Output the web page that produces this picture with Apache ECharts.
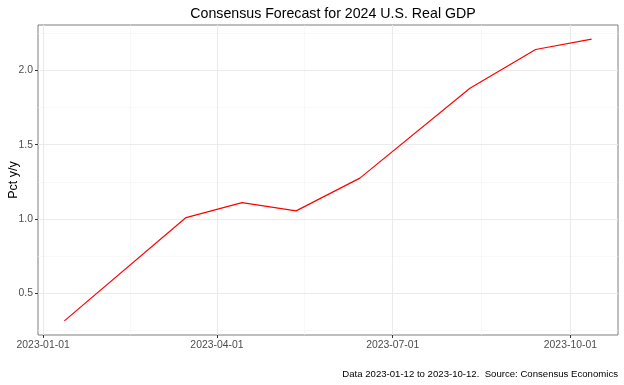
<!DOCTYPE html>
<html>
<head>
<meta charset="utf-8">
<script src="https://cdn.jsdelivr.net/npm/echarts@6/dist/echarts.min.js"></script>
<style>
html,body{margin:0;padding:0;background:#fff;}
#chart{width:624px;height:385px;}
</style>
</head>
<body>
<div id="chart"></div>
<script>
// ---- data ----
var surveyDates = ['2023-01-12','2023-03-16','2023-04-14','2023-05-12','2023-06-14','2023-08-10','2023-09-13','2023-10-12'];
var forecastValues = [0.315, 1.01, 1.11, 1.055, 1.275, 1.88, 2.14, 2.21];
var xTickLabels = ['2023-01-01','2023-04-01','2023-07-01','2023-10-01'];
var xMinorTickDates = ['2023-02-15','2023-05-16','2023-08-16'];
var yTickValues = [0.5, 1.0, 1.5, 2.0];
var yMinorTickValues = [0.25, 0.75, 1.25, 1.75, 2.25];
var titleText = 'Consensus Forecast for 2024 U.S. Real GDP';
var yAxisTitle = 'Pct y/y';
var captionText = 'Data 2023-01-12 to 2023-10-12.  Source: Consensus Economics';

// day number helper (days since epoch, UTC)
function dayNum(s){ var p = s.split('-'); return Date.UTC(+p[0], +p[1]-1, +p[2]) / 86400000; }
function dayStr(d){ var dt = new Date(Math.round(d)*86400000); return dt.toISOString().slice(0,10); }

var xs = surveyDates.map(dayNum);
var xMinD = Math.min.apply(null, xs), xMaxD = Math.max.apply(null, xs);
var xr = xMaxD - xMinD;
var yMinD = Math.min.apply(null, forecastValues), yMaxD = Math.max.apply(null, forecastValues);
var yr = yMaxD - yMinD;

var xTickVals = xTickLabels.map(dayNum);
var xMinorVals = xMinorTickDates.map(dayNum);

var seriesData = xs.map(function(x, i){ return [x, forecastValues[i]]; });

var FONT = '"Liberation Sans", Arial, sans-serif';

var gridMarks = [];
yMinorTickValues.forEach(function(v){ gridMarks.push({yAxis: v, lineStyle:{color:'#f3f3f3', width:0.6, type:'solid'}}); });
xMinorVals.forEach(function(v){ gridMarks.push({xAxis: v, lineStyle:{color:'#f3f3f3', width:0.6, type:'solid'}}); });
yTickValues.forEach(function(v){ gridMarks.push({yAxis: v, lineStyle:{color:'#ebebeb', width:1.1, type:'solid'}}); });
xTickVals.forEach(function(v){ gridMarks.push({xAxis: v, lineStyle:{color:'#ebebeb', width:1.1, type:'solid'}}); });

var chart = echarts.init(document.getElementById('chart'), null, {renderer:'canvas'});
chart.setOption({
  animation: false,
  backgroundColor: '#ffffff',
  textStyle: {fontFamily: FONT},
  grid: {left: 38, right: 6, top: 25, bottom: 50, show: true, borderColor: '#7f7f7f', borderWidth: 1, backgroundColor: '#ffffff', containLabel: false, outerBoundsMode: 'none'},
  xAxis: {
    type: 'value',
    min: xMinD - 0.05 * xr,
    max: xMaxD + 0.05 * xr,
    axisLine: {show: false},
    splitLine: {show: false},
    axisTick: {show: true, length: 3, lineStyle: {color: '#333333', width: 1}, customValues: xTickVals},
    axisLabel: {show: true, customValues: xTickVals, margin: 5, color: '#4d4d4d', fontSize: 10.4, fontFamily: FONT,
      formatter: function(v){ return dayStr(v); }}
  },
  yAxis: {
    type: 'value',
    min: yMinD - 0.05 * yr,
    max: yMaxD + 0.05 * yr,
    name: yAxisTitle,
    nameLocation: 'middle',
    nameRotate: 90,
    nameGap: 18,
    nameMoveOverlap: false,
    nameTextStyle: {color: '#000000', fontSize: 12.5, fontFamily: FONT},
    axisLine: {show: false},
    splitLine: {show: false},
    axisTick: {show: true, length: 3, lineStyle: {color: '#333333', width: 1}, customValues: yTickValues},
    axisLabel: {show: true, customValues: yTickValues, margin: 5, color: '#4d4d4d', fontSize: 10.4, fontFamily: FONT,
      formatter: function(v){ return v.toFixed(1); }}
  },
  title: {
    text: titleText,
    left: 328,
    top: 2,
    textAlign: 'center',
    textStyle: {fontSize: 14.2, fontWeight: 'normal', color: '#000000', fontFamily: FONT}
  },
  graphic: [{
    type: 'text',
    right: 6,
    bottom: 6,
    style: {text: captionText, fill: '#000000', font: '9.6px ' + FONT, textAlign: 'right'}
  }],
  series: [
    {
      type: 'line',
      z: 1,
      silent: true,
      data: seriesData,
      showSymbol: false,
      lineStyle: {opacity: 0},
      markLine: {silent: true, symbol: ['none','none'], label: {show: false}, animation: false, data: gridMarks}
    },
    {
      type: 'line',
      z: 5,
      data: seriesData,
      showSymbol: false,
      symbol: 'none',
      lineStyle: {color: '#ff0000', width: 1.2},
      itemStyle: {color: '#ff0000'}
    }
  ]
});
</script>
</body>
</html>
